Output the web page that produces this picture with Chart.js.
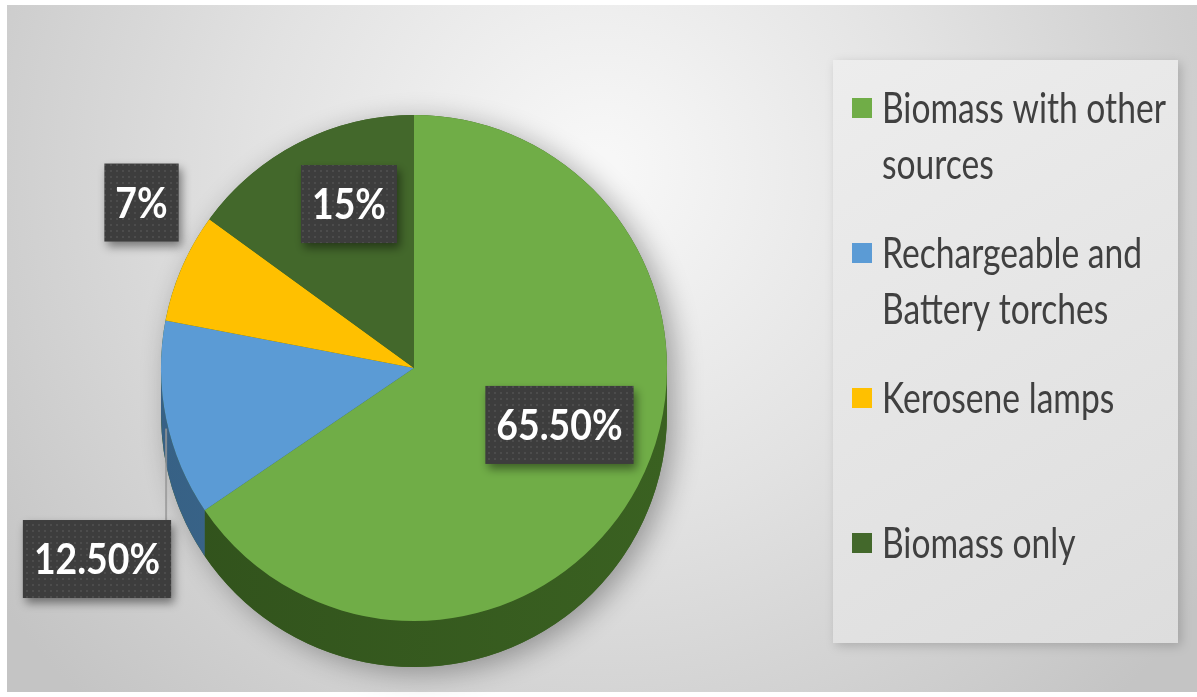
<!DOCTYPE html>
<html>
<head>
<meta charset="utf-8">
<script src="https://cdn.jsdelivr.net/npm/chart.js@4.4.0/dist/chart.umd.min.js"></script>
<style>
  html, body { margin: 0; padding: 0; background: #fff; }
  canvas { display: block; }
</style>
</head>
<body>
<canvas id="chart" width="1197" height="697"></canvas>
<script>
// Fuentes de iluminación en los hogares
const categories = ['Biomass with other sources', 'Rechargeable and Battery torches', 'Kerosene lamps', 'Biomass only'];
const shares = [65.5, 12.5, 7, 15];
const topColors = ['#70ad47', '#5b9bd5', '#ffc000', '#43682b'];
const sideColors = ['#3a6121', '#41719c', '#bf9000', '#2c461b'];

// posición de cada etiqueta respecto al centro, en radios
const labelOffsets = [[0.575, 0.225], [-1.253, 0.755], [-1.077, -0.654], [-0.257, -0.648]];
const leaderLines = [false, true, false, false];

const DEPTH = 46;

function pctText(v) {
    return Number.isInteger(v) ? v + '%' : v.toFixed(2) + '%';
}

// texto estrechado horizontalmente
function drawNarrow(ctx, text, x, y, sx, align) {
    ctx.save();
    ctx.translate(x, y);
    ctx.scale(sx, 1);
    ctx.textAlign = align || 'left';
    ctx.fillText(text, 0, 0);
    ctx.restore();
}

function wrapText(ctx, text, maxW, sx) {
    const words = text.split(' ');
    const lines = [];
    let cur = '';
    words.forEach(w => {
        const test = cur ? cur + ' ' + w : w;
        if (cur && ctx.measureText(test).width * sx > maxW) {
            lines.push(cur);
            cur = w;
        } else {
            cur = test;
        }
    });
    if (cur) lines.push(cur);
    return lines;
}

// fondo, marco y caja de la leyenda
const backdrop = {
    id: 'backdrop',
    beforeDraw(chart) {
        const ctx = chart.ctx;
        ctx.save();
        ctx.fillStyle = '#ffffff';
        ctx.fillRect(0, 0, chart.width, chart.height);

        const g = ctx.createRadialGradient(600, 170, 20, 600, 170, 740);
        g.addColorStop(0, '#f7f7f7');
        g.addColorStop(0.45, '#e2e2e2');
        g.addColorStop(1, '#c4c4c4');
        ctx.fillStyle = g;
        ctx.fillRect(7, 5, 1190, 687);

        // caja de la leyenda
        ctx.shadowColor = 'rgba(0,0,0,0.18)';
        ctx.shadowBlur = 10;
        ctx.shadowOffsetX = 3;
        ctx.shadowOffsetY = 3;
        const lg = ctx.createLinearGradient(833, 60, 1178, 643);
        lg.addColorStop(0, '#ededed');
        lg.addColorStop(1, '#dddddd');
        ctx.fillStyle = lg;
        ctx.fillRect(833, 60, 345, 583);
        ctx.restore();
    }
};

// lado del "cilindro" para dar efecto 3D
const pieDepth = {
    id: 'pieDepth',
    beforeDatasetsDraw(chart) {
        const ctx = chart.ctx;
        const meta = chart.getDatasetMeta(0);
        if (!meta.data.length) return;
        const first = meta.data[0];
        const cx = first.x, cy = first.y, r = first.outerRadius;

        ctx.save();
        // sombra del conjunto
        ctx.shadowColor = 'rgba(0,0,0,0.33)';
        ctx.shadowBlur = 28;
        ctx.shadowOffsetX = 8;
        ctx.shadowOffsetY = 6;
        ctx.fillStyle = sideColors[0];
        ctx.beginPath();
        ctx.arc(cx, cy, r, Math.PI, 2 * Math.PI);
        ctx.lineTo(cx + r, cy + DEPTH);
        ctx.arc(cx, cy + DEPTH, r, 0, Math.PI);
        ctx.closePath();
        ctx.fill();
        ctx.restore();

        meta.data.forEach((arc, i) => {
            const a0 = Math.max(arc.startAngle, 0);
            const a1 = Math.min(arc.endAngle, Math.PI);
            if (a1 <= a0) return;
            ctx.save();
            const sg = ctx.createLinearGradient(cx + r, 0, cx - r, 0);
            sg.addColorStop(0, sideColors[i]);
            sg.addColorStop(1, Chart.helpers.color(sideColors[i]).darken(0.15).rgbString());
            ctx.fillStyle = sg;
            ctx.beginPath();
            ctx.arc(cx, cy, r, a0, a1);
            ctx.lineTo(cx + r * Math.cos(a1), cy + DEPTH + r * Math.sin(a1));
            ctx.arc(cx, cy + DEPTH, r, a1, a0, true);
            ctx.closePath();
            ctx.fill();
            ctx.restore();
        });
    }
};

// patrón punteado de las etiquetas
function dotPattern(ctx) {
    const c = document.createElement('canvas');
    c.width = 6; c.height = 6;
    const p = c.getContext('2d');
    p.fillStyle = '#3d3d3d';
    p.fillRect(0, 0, 6, 6);
    p.fillStyle = '#4c4c4c';
    p.fillRect(2, 2, 2, 2);
    return ctx.createPattern(c, 'repeat');
}

const valueBoxes = {
    id: 'valueBoxes',
    afterDatasetsDraw(chart) {
        const ctx = chart.ctx;
        const meta = chart.getDatasetMeta(0);
        const pattern = dotPattern(ctx);
        const sx = 0.89;
        ctx.save();
        ctx.font = 'bold 42px Lato';
        meta.data.forEach((arc, i) => {
            const r = arc.outerRadius;
            const bx = arc.x + labelOffsets[i][0] * r;
            const by = arc.y + labelOffsets[i][1] * r;
            const txt = pctText(shares[i]);
            const w = ctx.measureText(txt).width * sx + 22;
            const h = 78;
            const left = bx - w / 2, top = by - h / 2;

            if (leaderLines[i]) {
                const lx = left + w - 5;
                const ly = arc.y + Math.sqrt(Math.max(r * r - (lx - arc.x) ** 2, 0));
                ctx.save();
                ctx.strokeStyle = 'rgba(150,150,150,0.8)';
                ctx.lineWidth = 2;
                ctx.beginPath();
                ctx.moveTo(lx, top);
                ctx.lineTo(lx, ly + 10);
                ctx.stroke();
                ctx.restore();
            }

            ctx.save();
            ctx.shadowColor = 'rgba(0,0,0,0.45)';
            ctx.shadowBlur = 10;
            ctx.shadowOffsetX = 3;
            ctx.shadowOffsetY = 5;
            ctx.fillStyle = pattern;
            ctx.fillRect(left, top, w, h);
            ctx.restore();

            ctx.fillStyle = '#ffffff';
            ctx.textBaseline = 'alphabetic';
            drawNarrow(ctx, txt, bx, by + 15, sx, 'center');
        });
        ctx.restore();
    },
    afterDraw(chart) {
        // leyenda
        const ctx = chart.ctx;
        const sx = 0.8;
        ctx.save();
        ctx.font = '42px Lato';
        ctx.textBaseline = 'alphabetic';
        categories.forEach((name, i) => {
            const y0 = 108 + i * 145;
            ctx.fillStyle = topColors[i];
            ctx.fillRect(852, y0 - 10, 20, 20);
            ctx.fillStyle = '#404040';
            wrapText(ctx, name, 292, sx).forEach((ln, k) => {
                drawNarrow(ctx, ln, 882, y0 + 15 + k * 56, sx);
            });
        });
        ctx.restore();
    }
};

const chart = new Chart(document.getElementById('chart'), {
    type: 'pie',
    data: {
        labels: categories,
        datasets: [{
            data: shares,
            backgroundColor: topColors,
            borderWidth: 0
        }]
    },
    options: {
        responsive: false,
        animation: false,
        devicePixelRatio: 1,
        layout: { padding: { left: 161, right: 530, top: 115, bottom: 76 } },
        plugins: {
            legend: { display: false },
            tooltip: { enabled: false }
        }
    },
    plugins: [backdrop, pieDepth, valueBoxes]
});
</script>
</body>
</html>
